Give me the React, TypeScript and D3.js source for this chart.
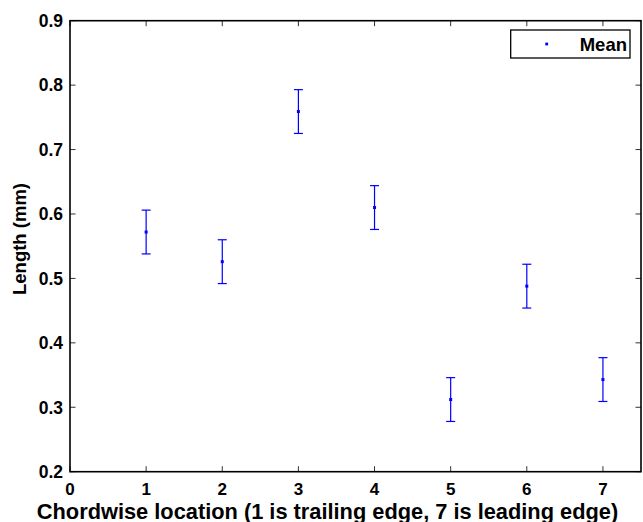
import React from "react";
import * as d3 from "d3";

const locations = [1, 2, 3, 4, 5, 6, 7];
const means = [0.572, 0.526, 0.759, 0.61, 0.312, 0.488, 0.343];
const upper = [0.606, 0.56, 0.793, 0.644, 0.346, 0.522, 0.377];
const lower = [0.538, 0.492, 0.725, 0.576, 0.278, 0.454, 0.309];
const xTicks = [0, 1, 2, 3, 4, 5, 6, 7];
const yTicks = [0.2, 0.3, 0.4, 0.5, 0.6, 0.7, 0.8, 0.9];

const W = 643;
const H = 522;
const left = 70;
const right = 641;
const top = 20.7;
const bottom = 471.7;
const font = "'Liberation Sans', Arial, Helvetica, sans-serif";
const blue = "#0000ff";

export default function App() {
  const x = d3.scaleLinear().domain([0, 7.5]).range([left, right]);
  const y = d3.scaleLinear().domain([0.2, 0.9]).range([bottom, top]);
  const tickLen = 5.5;
  const capHalf = 4.5;
  return (
    <svg
      width={W}
      height={H}
      style={{ position: "absolute", left: 0, top: 0, background: "#fff" }}
    >
      <rect x={0} y={0} width={W} height={H} fill="#fff" />
      {/* ticks */}
      {xTicks.map((t) => (
        <g key={"xt" + t} stroke="#333" strokeWidth={1}>
          <line x1={x(t)} x2={x(t)} y1={bottom} y2={bottom - tickLen} />
          <line x1={x(t)} x2={x(t)} y1={top} y2={top + tickLen} />
        </g>
      ))}
      {yTicks.map((t) => (
        <g key={"yt" + t} stroke="#333" strokeWidth={1}>
          <line x1={left} x2={left + tickLen} y1={y(t)} y2={y(t)} />
          <line x1={right} x2={right - tickLen} y1={y(t)} y2={y(t)} />
        </g>
      ))}
      {/* box */}
      <rect
        x={left}
        y={top}
        width={right - left}
        height={bottom - top}
        fill="none"
        stroke="#000"
        strokeWidth={1.6}
      />
      {/* tick labels */}
      {xTicks.map((t) => (
        <text
          key={"xl" + t}
          x={x(t)}
          y={494.5}
          textAnchor="middle"
          fontFamily={font}
          fontWeight="bold"
          fontSize={17}
          fill="#000"
        >
          {t}
        </text>
      ))}
      {yTicks.map((t) => (
        <text
          key={"yl" + t}
          x={63}
          y={y(t)}
          dy="0.36em"
          textAnchor="end"
          fontFamily={font}
          fontWeight="bold"
          fontSize={17.5}
          fill="#000"
        >
          {t.toFixed(1)}
        </text>
      ))}
      {/* axis titles */}
      <text
        x={(left + right) / 2 - 28}
        y={518.5}
        textAnchor="middle"
        fontFamily={font}
        fontWeight="bold"
        fontSize={16.4}
        fill="#000"
        style={{ fontSize: "16.4px" }}
      >
        {""}
      </text>
      <text
        x={327.5}
        y={518.5}
        textAnchor="middle"
        fontFamily={font}
        fontWeight="bold"
        fontSize={21.8}
        fill="#000"
      >
        Chordwise location (1 is trailing edge, 7 is leading edge)
      </text>
      <text
        transform={`translate(26,239) rotate(-90)`}
        textAnchor="middle"
        fontFamily={font}
        fontWeight="bold"
        fontSize={18.5}
        fill="#000"
      >
        Length (mm)
      </text>
      {/* error bars */}
      {locations.map((loc, i) => {
        const cx = x(loc);
        return (
          <g key={"e" + i} stroke={blue} strokeWidth={1.2} fill="none">
            <line x1={cx} x2={cx} y1={y(upper[i])} y2={y(lower[i])} />
            <line
              x1={cx - capHalf}
              x2={cx + capHalf}
              y1={y(upper[i])}
              y2={y(upper[i])}
            />
            <line
              x1={cx - capHalf}
              x2={cx + capHalf}
              y1={y(lower[i])}
              y2={y(lower[i])}
            />
            <rect
              x={cx - 1.5}
              y={y(means[i]) - 1.5}
              width={3}
              height={3}
              fill={blue}
              stroke="none"
            />
          </g>
        );
      })}
      {/* legend */}
      <rect
        x={510.7}
        y={30}
        width={119.3}
        height={28}
        fill="#fff"
        stroke="#000"
        strokeWidth={1.3}
      />
      <rect x={545.3} y={42.6} width={2.8} height={2.8} fill={blue} />
      <text
        x={627}
        y={44}
        dy="0.36em"
        textAnchor="end"
        fontFamily={font}
        fontWeight="bold"
        fontSize={18.5}
        fill="#000"
      >
        Mean
      </text>
    </svg>
  );
}
